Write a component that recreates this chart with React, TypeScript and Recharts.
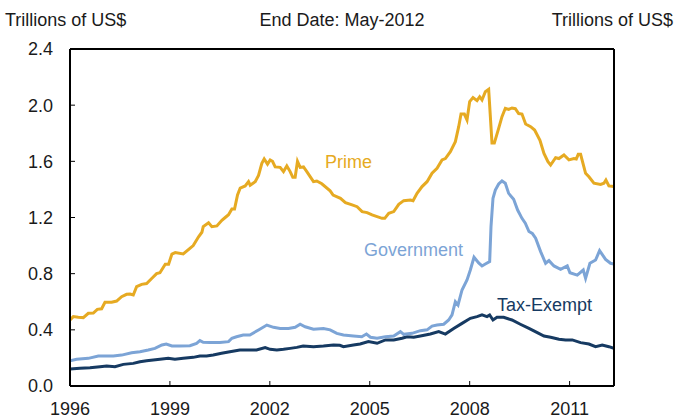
import React from "react";
import { LineChart, Line, XAxis, YAxis, ReferenceLine } from "recharts";

// [year, trillions of US$]
const prime: [number, number][] = [
  [1996.0, 0.47], [1996.1, 0.494], [1996.25, 0.49], [1996.4, 0.487], [1996.55, 0.518], [1996.7, 0.52],
  [1996.82, 0.546], [1996.95, 0.55], [1997.05, 0.596], [1997.25, 0.596], [1997.4, 0.605], [1997.55, 0.636],
  [1997.7, 0.653], [1997.8, 0.655], [1997.9, 0.648], [1998.0, 0.707], [1998.15, 0.724], [1998.3, 0.73],
  [1998.46, 0.767], [1998.6, 0.8], [1998.7, 0.807], [1998.86, 0.867], [1998.96, 0.867], [1999.06, 0.94],
  [1999.16, 0.95], [1999.4, 0.94], [1999.6, 0.98], [1999.7, 1.0], [1999.86, 1.063], [1999.96, 1.095],
  [2000.0, 1.135], [2000.16, 1.163], [2000.26, 1.135], [2000.41, 1.14], [2000.56, 1.18], [2000.66, 1.2],
  [2000.76, 1.22], [2000.86, 1.26], [2000.94, 1.26], [2001.03, 1.36], [2001.11, 1.41], [2001.26, 1.425],
  [2001.36, 1.455], [2001.41, 1.43], [2001.56, 1.455], [2001.66, 1.5], [2001.76, 1.586], [2001.83, 1.617],
  [2001.93, 1.58], [2002.01, 1.61], [2002.08, 1.6], [2002.16, 1.56], [2002.31, 1.557], [2002.41, 1.527],
  [2002.51, 1.567], [2002.61, 1.527], [2002.69, 1.486], [2002.76, 1.486], [2002.83, 1.6], [2002.91, 1.557],
  [2003.01, 1.56], [2003.11, 1.527], [2003.31, 1.455], [2003.41, 1.46], [2003.56, 1.44], [2003.81, 1.39],
  [2003.9, 1.36], [2004.12, 1.337], [2004.27, 1.306], [2004.47, 1.29], [2004.62, 1.277], [2004.77, 1.242],
  [2004.92, 1.235], [2005.07, 1.218], [2005.22, 1.206], [2005.37, 1.194], [2005.45, 1.194], [2005.57, 1.23],
  [2005.72, 1.242], [2005.87, 1.294], [2006.02, 1.32], [2006.22, 1.325], [2006.3, 1.32], [2006.42, 1.372],
  [2006.57, 1.42], [2006.72, 1.455], [2006.87, 1.515], [2007.02, 1.55], [2007.17, 1.61], [2007.27, 1.62],
  [2007.42, 1.669], [2007.57, 1.74], [2007.67, 1.847], [2007.74, 1.937], [2007.84, 1.937], [2007.92, 1.895],
  [2008.0, 2.025], [2008.1, 2.054], [2008.22, 2.032], [2008.3, 2.06], [2008.37, 2.037], [2008.47, 2.096],
  [2008.57, 2.113], [2008.67, 1.73], [2008.74, 1.73], [2008.87, 1.835], [2008.97, 1.918], [2009.07, 1.978],
  [2009.17, 1.97], [2009.27, 1.98], [2009.37, 1.975], [2009.47, 1.94], [2009.57, 1.937], [2009.68, 1.866],
  [2009.83, 1.847], [2009.95, 1.823], [2010.11, 1.75], [2010.23, 1.657], [2010.35, 1.598], [2010.43, 1.574],
  [2010.58, 1.626], [2010.68, 1.62], [2010.83, 1.645], [2010.98, 1.61], [2011.13, 1.62], [2011.2, 1.617],
  [2011.26, 1.65], [2011.33, 1.65], [2011.48, 1.515], [2011.58, 1.49], [2011.73, 1.444], [2011.93, 1.436],
  [2012.03, 1.444], [2012.09, 1.467], [2012.18, 1.425], [2012.33, 1.42],
];

const government: [number, number][] = [
  [1996.0, 0.18], [1996.2, 0.19], [1996.55, 0.197], [1996.85, 0.214], [1997.1, 0.214], [1997.3, 0.214],
  [1997.55, 0.22], [1997.85, 0.237], [1998.1, 0.244], [1998.35, 0.256], [1998.55, 0.268], [1998.76, 0.292],
  [1998.89, 0.299], [1999.06, 0.285], [1999.3, 0.285], [1999.6, 0.287], [1999.8, 0.304], [1999.9, 0.323],
  [2000.0, 0.311], [2000.2, 0.31], [2000.5, 0.31], [2000.76, 0.316], [2000.86, 0.34], [2001.0, 0.351],
  [2001.2, 0.363], [2001.4, 0.363], [2001.66, 0.399], [2001.91, 0.434], [2002.11, 0.418], [2002.31, 0.41],
  [2002.56, 0.41], [2002.76, 0.418], [2002.91, 0.44], [2003.06, 0.422], [2003.31, 0.405], [2003.61, 0.41],
  [2003.81, 0.4], [2004.01, 0.375], [2004.21, 0.363], [2004.51, 0.356], [2004.76, 0.351], [2004.9, 0.37],
  [2005.02, 0.347], [2005.22, 0.34], [2005.47, 0.351], [2005.72, 0.356], [2005.92, 0.387], [2006.02, 0.368],
  [2006.27, 0.375], [2006.52, 0.394], [2006.72, 0.4], [2006.87, 0.427], [2007.02, 0.434], [2007.22, 0.44],
  [2007.37, 0.47], [2007.47, 0.506], [2007.57, 0.6], [2007.65, 0.577], [2007.77, 0.684], [2007.92, 0.755],
  [2008.02, 0.826], [2008.13, 0.917], [2008.27, 0.876], [2008.37, 0.855], [2008.47, 0.869], [2008.6, 0.886],
  [2008.64, 1.135], [2008.7, 1.337], [2008.77, 1.396], [2008.87, 1.439], [2008.97, 1.46], [2009.07, 1.444],
  [2009.17, 1.372], [2009.32, 1.33], [2009.44, 1.253], [2009.57, 1.194], [2009.67, 1.159], [2009.78, 1.1],
  [2009.88, 1.087], [2009.98, 1.052], [2010.13, 0.957], [2010.28, 0.874], [2010.38, 0.893], [2010.53, 0.855],
  [2010.73, 0.831], [2010.93, 0.855], [2011.01, 0.807], [2011.23, 0.79], [2011.41, 0.826], [2011.48, 0.767],
  [2011.61, 0.874], [2011.78, 0.897], [2011.9, 0.964], [2012.08, 0.902], [2012.23, 0.874], [2012.33, 0.869],
];

const taxExempt: [number, number][] = [
  [1996.0, 0.121], [1996.3, 0.126], [1996.6, 0.13], [1996.9, 0.137], [1997.1, 0.142], [1997.35, 0.137],
  [1997.6, 0.154], [1997.9, 0.161], [1998.1, 0.173], [1998.3, 0.18], [1998.5, 0.185], [1998.7, 0.19],
  [1998.95, 0.197], [1999.15, 0.19], [1999.4, 0.197], [1999.7, 0.204], [1999.9, 0.214], [2000.1, 0.214],
  [2000.3, 0.221], [2000.55, 0.233], [2000.8, 0.244], [2001.1, 0.256], [2001.35, 0.256], [2001.6, 0.256],
  [2001.86, 0.273], [2002.01, 0.261], [2002.21, 0.256], [2002.41, 0.261], [2002.61, 0.268], [2002.81, 0.275],
  [2003.0, 0.285], [2003.31, 0.28], [2003.61, 0.285], [2003.91, 0.292], [2004.1, 0.29], [2004.21, 0.28],
  [2004.51, 0.292], [2004.71, 0.299], [2004.96, 0.316], [2005.22, 0.304], [2005.47, 0.328], [2005.72, 0.328],
  [2005.97, 0.34], [2006.12, 0.351], [2006.32, 0.347], [2006.52, 0.356], [2006.82, 0.37], [2007.07, 0.387],
  [2007.27, 0.37], [2007.52, 0.41], [2007.77, 0.446], [2008.02, 0.482], [2008.22, 0.494], [2008.37, 0.506],
  [2008.52, 0.494], [2008.6, 0.506], [2008.7, 0.47], [2008.82, 0.489], [2009.02, 0.489], [2009.27, 0.47],
  [2009.52, 0.44], [2009.78, 0.41], [2010.03, 0.38], [2010.23, 0.356], [2010.43, 0.347], [2010.68, 0.333],
  [2010.88, 0.328], [2011.08, 0.328], [2011.33, 0.309], [2011.58, 0.299], [2011.78, 0.28], [2011.98, 0.292],
  [2012.18, 0.28], [2012.33, 0.268],
];

const xTicks = [1996, 1999, 2002, 2005, 2008, 2011];
const yTicks = [0, 0.4, 0.8, 1.2, 1.6, 2.0, 2.4];

const FONT = "'Liberation Sans', Arial, sans-serif";
const C_PRIME = "#E6AA22";
const C_GOV = "#7CA4D6";
const C_TAX = "#163A62";

const toRows = (s: [number, number][]) => s.map(([t, v]) => ({ t, v }));

export default function App() {
  const tickStyle = { fontSize: 18, fontFamily: FONT, fill: "#1a1a1a" };
  return (
    <div style={{ position: "absolute", left: 0, top: 0, width: 679, height: 420, background: "#fff" }}>
      <LineChart width={679} height={420} margin={{ top: 49, right: 0, bottom: 0, left: 0 }}>
        <XAxis
          type="number"
          dataKey="t"
          domain={[1996, 2012.333]}
          ticks={xTicks}
          allowDataOverflow
          height={34}
          tickSize={-5}
          tickMargin={21}
          tick={tickStyle}
          stroke="#000"
          axisLine={{ stroke: "#000", strokeWidth: 2 }}
          tickLine={{ stroke: "#000", strokeWidth: 1 }}
          interval={0}
        />
        <YAxis
          yAxisId="left"
          domain={[0, 2.4]}
          ticks={yTicks}
          width={70}
          tickSize={-5}
          tickMargin={22}
          tick={tickStyle}
          tickFormatter={(v: number) => v.toFixed(1)}
          axisLine={{ stroke: "#000", strokeWidth: 2 }}
          tickLine={{ stroke: "#000", strokeWidth: 1 }}
          interval={0}
        />
        <YAxis
          yAxisId="right"
          orientation="right"
          domain={[0, 2.4]}
          ticks={yTicks}
          width={65}
          tickSize={-5}
          tickMargin={21}
          tick={tickStyle}
          tickFormatter={(v: number) => v.toFixed(1)}
          axisLine={{ stroke: "#000", strokeWidth: 2 }}
          tickLine={{ stroke: "#000", strokeWidth: 1 }}
          interval={0}
        />
        <ReferenceLine yAxisId="left" y={2.4} stroke="#000" strokeWidth={2} />
        <Line yAxisId="left" data={toRows(taxExempt)} dataKey="v" stroke={C_TAX} strokeWidth={3} dot={false} isAnimationActive={false} />
        <Line yAxisId="left" data={toRows(government)} dataKey="v" stroke={C_GOV} strokeWidth={3} dot={false} isAnimationActive={false} />
        <Line yAxisId="left" data={toRows(prime)} dataKey="v" stroke={C_PRIME} strokeWidth={3} dot={false} isAnimationActive={false} />
      </LineChart>
      <svg width={679} height={420} style={{ position: "absolute", left: 0, top: 0, pointerEvents: "none" }}>
        <g fontFamily={FONT} fontSize={18}>
          <text x={5} y={26} fill="#1a1a1a">Trillions of US$</text>
          <text x={342} y={26} fill="#1a1a1a" textAnchor="middle">End Date: May-2012</text>
          <text x={673} y={26} fill="#1a1a1a" textAnchor="end">Trillions of US$</text>
          <text x={325} y={168} fill={C_PRIME}>Prime</text>
          <text x={364} y={256} fill={C_GOV}>Government</text>
          <text x={497} y={311} fill={C_TAX}>Tax-Exempt</text>
        </g>
      </svg>
    </div>
  );
}
